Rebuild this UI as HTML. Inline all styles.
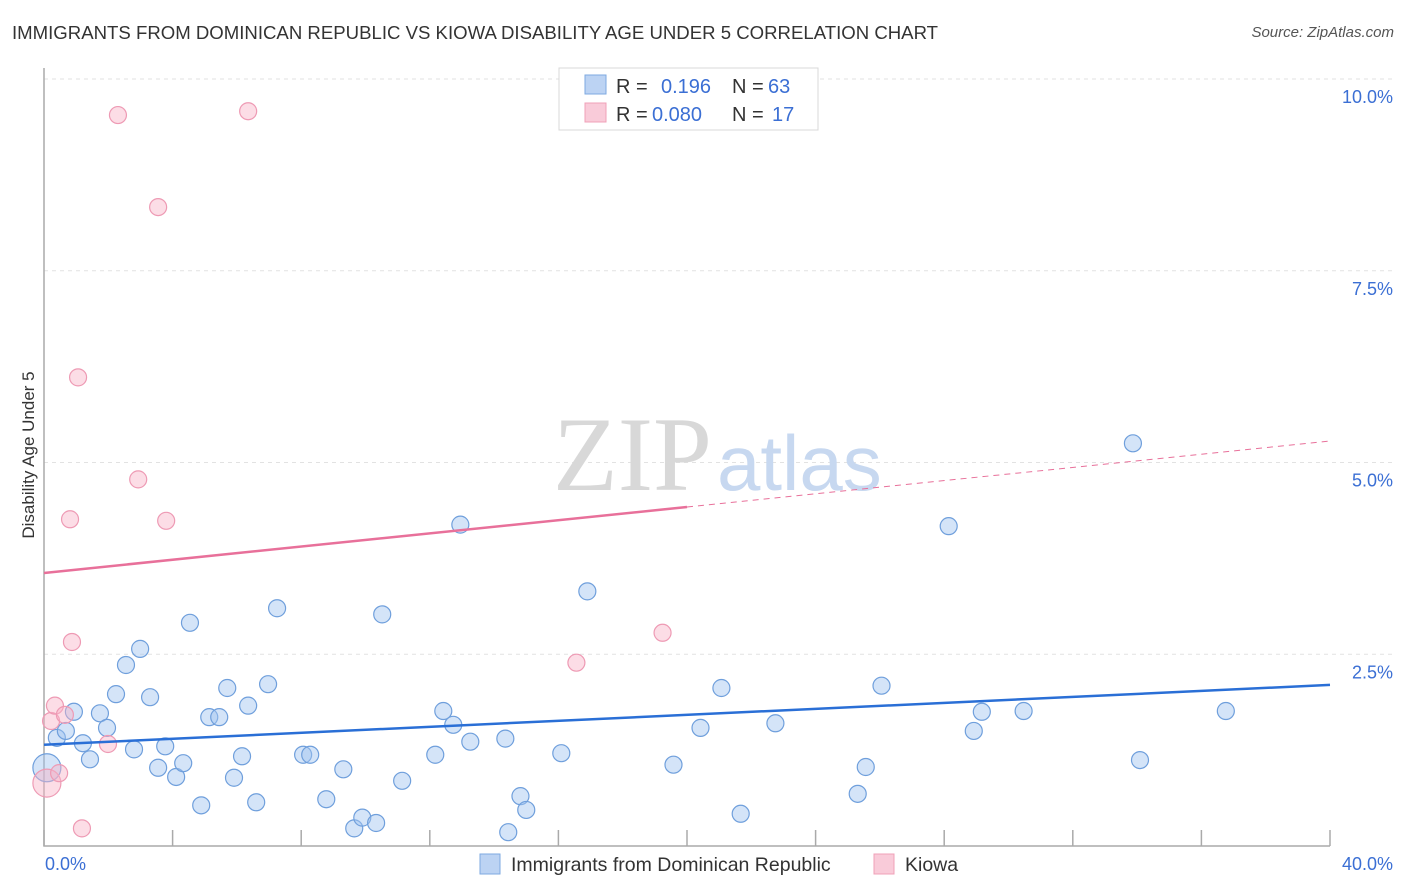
<!DOCTYPE html>
<html><head><meta charset="utf-8">
<style>
body{margin:0;background:#fff;font-family:"Liberation Sans",sans-serif;}
#wrap{position:relative;width:1406px;height:892px;overflow:hidden;}
.title{position:absolute;left:12px;top:22px;font-size:18.6px;color:#333;}
.source{position:absolute;right:12px;top:24px;font-size:15px;color:#555;font-style:italic;}
</style></head><body>
<div id="wrap">
<div class="title">IMMIGRANTS FROM DOMINICAN REPUBLIC VS KIOWA DISABILITY AGE UNDER 5 CORRELATION CHART</div>
<div class="source">Source: ZipAtlas.com</div>
<svg id="svg" width="1406" height="892" style="position:absolute;left:0;top:0"></svg>
</div>
<script>
const blueX=[0.09,0.40,0.68,1.21,1.43,1.74,0.93,1.96,2.24,2.55,2.80,2.99,3.30,3.55,3.77,4.11,4.33,4.54,4.89,5.14,5.45,5.70,5.91,6.16,6.35,6.60,6.97,7.25,8.06,8.28,8.78,9.31,9.65,9.90,10.33,10.52,11.14,12.17,12.42,12.73,12.95,13.26,14.35,14.44,14.82,15.00,16.09,16.90,19.58,20.42,21.07,21.67,22.75,25.31,25.56,26.05,28.14,28.92,29.17,30.47,33.87,34.09,36.76];
const blueY=[1.02,1.41,1.50,1.34,1.13,1.73,1.75,1.54,1.98,2.36,1.26,2.57,1.94,1.02,1.30,0.90,1.08,2.91,0.53,1.68,1.68,2.06,0.89,1.17,1.83,0.57,2.11,3.10,1.19,1.19,0.61,1.00,0.23,0.37,0.30,3.02,0.85,1.19,1.76,1.58,4.19,1.36,1.40,0.18,0.65,0.47,1.21,3.32,1.06,1.54,2.06,0.42,1.60,0.68,1.03,2.09,4.17,1.50,1.75,1.76,5.25,1.12,1.76];
const pinkX=[0.09,0.22,0.34,0.47,0.65,0.81,0.87,1.06,1.18,1.99,2.30,2.93,3.55,3.80,6.35,16.56,19.24];
const pinkY=[0.82,1.63,1.83,0.95,1.71,4.26,2.66,6.11,0.23,1.33,9.53,4.78,8.33,4.24,9.58,2.39,2.78];
const blueTrend=[1.32,2.10];
const pinkTrend=[3.56,5.28];
const yTicks=[2.5,5.0,7.5,10.0];
const yTickLabels=["2.5%","5.0%","7.5%","10.0%"];
const xTicks=[0,4,8,12,16,20,24,28,32,36,40];

const NS="http://www.w3.org/2000/svg";
const svg=document.getElementById('svg');
const X=v=>44+v*(1330-44)/40;
const Y=v=>846-v*(846-79)/10;
function el(t,a,p){const e=document.createElementNS(NS,t);for(const k in a)e.setAttribute(k,a[k]);(p||svg).appendChild(e);return e;}

yTicks.forEach((t,i)=>{
 const g=el('line',{x1:44,x2:1395,y1:Y(t),y2:Y(t),stroke:'#e2e2e2','stroke-dasharray':'4,4'});
 
 
 const tx=el('text',{x:1393,y:Y(t)+24,'text-anchor':'end','font-size':18,fill:'#3b6fd4'});
 tx.textContent=yTickLabels[i];
 
 
});
const wm=el('text',{x:553,y:490,'font-size':106,fill:'#d8d8d8','font-family':'Liberation Serif, serif'});wm.textContent='ZIP';


const wm2=el('text',{x:717,y:490,'font-size':78,fill:'#c7d8f0'});wm2.textContent='atlas';


const ax=el('path',{d:'M44,68 V846 H1330',fill:'none',stroke:'#aaa','stroke-width':1.5});


xTicks.forEach(t=>{
 const l=el('line',{x1:X(t),x2:X(t),y1:830,y2:846,stroke:'#aaa','stroke-width':1.5});
 
 
});
const xl0=el('text',{x:45,y:870,'font-size':18,fill:'#3b6fd4'});xl0.textContent='0.0%';


const xl1=el('text',{x:1393,y:870,'font-size':18,fill:'#3b6fd4','text-anchor':'end'});xl1.textContent='40.0%';


const yt=el('text',{x:34,y:455,'font-size':17,fill:'#333','text-anchor':'middle',transform:'rotate(-90 34 455)'});yt.textContent='Disability Age Under 5';



function pts(xs,ys,fill,stroke,name){
 xs.forEach((x,i)=>{
  const r=(i===0)?14:8.5;
  const c=el('circle',{cx:X(x),cy:Y(ys[i]),r:r,fill:fill,stroke:stroke,'stroke-width':1.2});
  
  
 });
}
pts(blueX,blueY,'rgba(160,196,240,0.45)','#6f9fdc','point-dominican');
pts(pinkX,pinkY,'rgba(248,180,200,0.45)','#ee9ab4','point-kiowa');

const bt=el('line',{x1:X(0),y1:Y(blueTrend[0]),x2:X(40),y2:Y(blueTrend[1]),stroke:'#2a6fd6','stroke-width':2.5});


const py=x=>pinkTrend[0]+(pinkTrend[1]-pinkTrend[0])*x/40;
const pt=el('line',{x1:X(0),y1:Y(py(0)),x2:X(20),y2:Y(py(20)),stroke:'#e8709a','stroke-width':2.5});


const pd=el('line',{x1:X(20),y1:Y(py(20)),x2:X(40),y2:Y(py(40)),stroke:'#e8709a','stroke-width':1,'stroke-dasharray':'6,5'});



const lg=el('g',{});


el('rect',{x:559,y:68,width:259,height:62,fill:'#fff',stroke:'#d8d8d8'},lg);
el('rect',{x:585,y:75,width:21,height:19,fill:'#bcd3f3',stroke:'#7ea9e0'},lg);
el('rect',{x:585,y:103,width:21,height:19,fill:'#f9cbd9',stroke:'#f0a0b8'},lg);
function tt(x,y,s,c){const t=el('text',{x:x,y:y,'font-size':20,fill:c},lg);t.textContent=s;return t;}
tt(616,93,'R =','#333');tt(661,93,'0.196','#3b6fd4');tt(732,93,'N =','#333');tt(768,93,'63','#3b6fd4');
tt(616,121,'R =','#333');tt(652,121,'0.080','#3b6fd4');tt(732,121,'N =','#333');tt(772,121,'17','#3b6fd4');

const bl=el('g',{});


el('rect',{x:480,y:854,width:20,height:20,fill:'#bcd3f3',stroke:'#7ea9e0'},bl);
const b1=el('text',{x:511,y:871,'font-size':19.5,fill:'#333'},bl);b1.textContent='Immigrants from Dominican Republic';
el('rect',{x:874,y:854,width:20,height:20,fill:'#f9cbd9',stroke:'#f0a0b8'},bl);
const b2=el('text',{x:905,y:871,'font-size':19.5,fill:'#333'},bl);b2.textContent='Kiowa';
</script>
</body></html>
